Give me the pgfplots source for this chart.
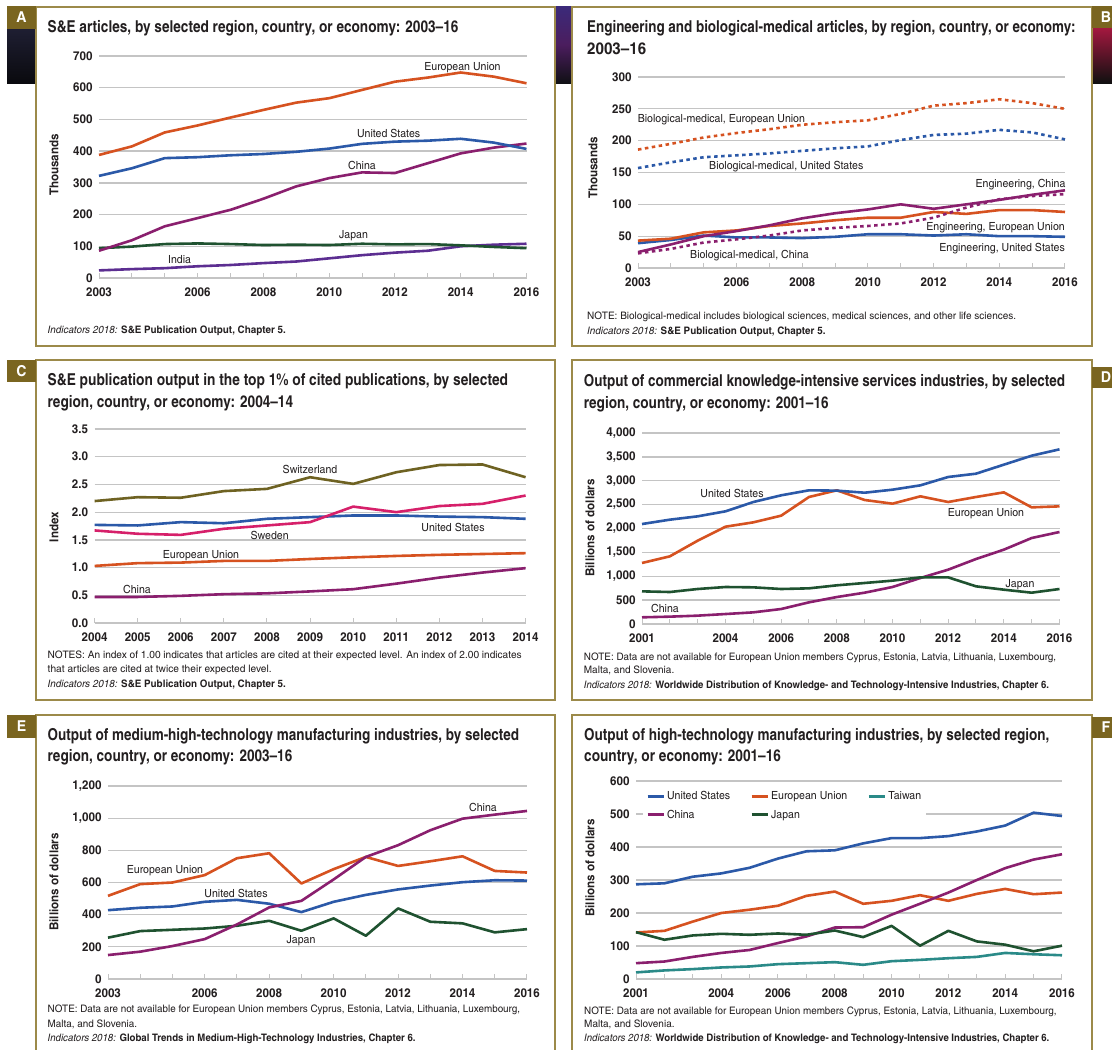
\documentclass[border=0pt]{standalone}
\usepackage{fontspec}
\setmainfont{texgyreheroscn}[Extension=.otf, UprightFont=*-regular, BoldFont=*-bold, ItalicFont=*-italic, BoldItalicFont=*-bolditalic, FakeStretch=1.15]
\usepackage{graphicx}
\usepackage{pgfplots}
\pgfplotsset{compat=1.18}

\definecolor{usblue}{RGB}{43,89,168}
\definecolor{euorange}{RGB}{214,82,32}
\definecolor{chinaplum}{RGB}{138,31,110}
\definecolor{japangreen}{RGB}{31,82,48}
\definecolor{indiaviolet}{RGB}{92,46,145}
\definecolor{swissolive}{RGB}{110,98,34}
\definecolor{swedenpink}{RGB}{214,32,106}
\definecolor{taiwanteal}{RGB}{42,138,136}
\definecolor{gridgray}{RGB}{196,196,196}
\definecolor{textdark}{RGB}{35,31,32}
\definecolor{framegold}{RGB}{156,138,74}
\definecolor{boxgold}{RGB}{122,101,32}

% squeeze or stretch a line of text to the width it has in the reference
\newlength\natw
\newcommand\fitw[2]{\settowidth\natw{#2}\pgfmathsetmacro\fitsc{#1/\natw}\scalebox{\fitsc}[1]{#2}}

\pgfplotsset{
  panel/.style={
    scale only axis, enlargelimits=false, clip=false,
    axis x line*=bottom, axis y line*=left,
    y axis line style={draw=none},
    ymajorgrids, grid style={draw=gridgray, line width=1.3pt},
    x axis line style={draw=gridgray, line width=1.3pt},
    tick align=inside, major tick length=5pt,
    xtick style={draw=gridgray, line width=1pt},
    ytick style={draw=none},
    tick label style={font=\bfseries\fontsize{12.3}{13}\selectfont, text=textdark},
    xticklabel style={yshift=-6pt},
    yticklabel style={xshift=-3pt},
    /pgf/number format/assume math mode=true,
    /pgf/number format/1000 sep={,},
    every axis plot/.append style={line width=2.6pt, line join=round, no markers},
  },
  bio/.style={dash pattern=on 3.5pt off 3.5pt},
}

\tikzset{
  ann/.style={font=\fontsize{11.2}{13}\selectfont, text=textdark, inner sep=0pt},
  ttl/.style={font=\bfseries\fontsize{16.4}{19}\selectfont, text=textdark, inner sep=0pt, anchor=base west},
  nte/.style={font=\fontsize{10.3}{12}\selectfont, text=textdark, inner sep=0pt, anchor=base west},
  ylab/.style={font=\bfseries\fontsize{12.3}{14}\selectfont, text=textdark, inner sep=0pt, rotate=90},
  letter/.style={font=\bfseries\fontsize{15}{16}\selectfont, text=white, inner sep=0pt},
}

\begin{document}
\begin{tikzpicture}[x=1pt,y=-1pt]
\path[use as bounding box] (0,0) rectangle (1112,1050);

% dark banner behind the top row
\shade[top color={rgb,255:red,30;green,30;blue,50}, bottom color={rgb,255:red,10;green,10;blue,14}] (7,29) rectangle (36,83);
\shade[top color={rgb,255:red,59;green,42;blue,122}, bottom color={rgb,255:red,16;green,16;blue,21}, middle color={rgb,255:red,75;green,29;blue,94}] (555,6) rectangle (572,83);
\shade[top color={rgb,255:red,163;green,24;blue,63}, bottom color={rgb,255:red,16;green,16;blue,16}] (1092,28) rectangle (1112,83);

% panel frames
\draw[framegold, line width=1.2pt, fill=white] (36,7) rectangle (555,346);
\draw[framegold, line width=1.2pt, fill=white] (572,7) rectangle (1092,346);
\draw[framegold, line width=1.2pt, fill=white] (36,360) rectangle (555,700);
\draw[framegold, line width=1.2pt, fill=white] (572,360) rectangle (1092,700);
\draw[framegold, line width=1.2pt, fill=white] (36,715) rectangle (555,1060);
\draw[framegold, line width=1.2pt, fill=white] (572,715) rectangle (1092,1060);

% panel letters
\fill[boxgold] (7,6) rectangle (36,29);      \node[letter] at (21.5,17.5) {A};
\fill[boxgold] (1092,6) rectangle (1112,28); \node[letter] at (1106,17) {B};
\fill[boxgold] (7,360) rectangle (36,382);   \node[letter] at (21.5,371) {C};
\fill[boxgold] (1092,367) rectangle (1112,388); \node[letter] at (1106,377.5) {D};
\fill[boxgold] (7,715) rectangle (36,738);   \node[letter] at (21.5,726.5) {E};
\fill[boxgold] (1092,717) rectangle (1112,738); \node[letter] at (1106,727.5) {F};

% ---------------- A ----------------
\node[ttl] at (47.5,32) {\fitw{410.7}{S\&E articles, by selected region, country, or economy: 2003--16}};
\node[ylab] at (54,165) {Thousands};
\begin{axis}[panel, at={(99pt,-278pt)}, anchor=south west,
  width=427.5pt, height=222pt,
  xmin=2003, xmax=2016, ymin=0, ymax=700, ytick={0,100,...,700},
  xtick={2003,...,2016},
  xticklabels={2003,{},{},2006,{},2008,{},2010,{},2012,{},2014,{},2016}]
\addplot[indiaviolet] coordinates {(2003,24) (2004,28) (2005,31) (2006,37) (2007,41) (2008,47) (2009,52) (2010,62) (2011,72) (2012,80) (2013,86) (2014,100) (2015,105) (2016,108)};
\addplot[japangreen] coordinates {(2003,94) (2004,99) (2005,107) (2006,109) (2007,107) (2008,104) (2009,105) (2010,104) (2011,108) (2012,106) (2013,107) (2014,103) (2015,98) (2016,94)};
\addplot[chinaplum] coordinates {(2003,86) (2004,119) (2005,163) (2006,189) (2007,215) (2008,250) (2009,289) (2010,315) (2011,333) (2012,331) (2013,362) (2014,393) (2015,411) (2016,424)};
\addplot[usblue] coordinates {(2003,322) (2004,346) (2005,378) (2006,381) (2007,387) (2008,391) (2009,398) (2010,408) (2011,423) (2012,430) (2013,433) (2014,439) (2015,427) (2016,407)};
\addplot[euorange] coordinates {(2003,388) (2004,415) (2005,459) (2006,481) (2007,506) (2008,530) (2009,553) (2010,567) (2011,593) (2012,619) (2013,632) (2014,648) (2015,635) (2016,614)};
\end{axis}
\node[ann, anchor=base] at (462.5,70) {European Union};
\node[ann, anchor=base] at (388.6,137) {United States};
\node[ann, anchor=base] at (362,169) {China};
\node[ann, anchor=base] at (353.6,238) {Japan};
\node[ann, anchor=base] at (179.6,263) {India};
\node[nte] at (47.5,333) {\fitw{238.2}{\textit{Indicators 2018:} \textbf{S\&E Publication Output, Chapter 5.}}};

% ---------------- B ----------------
\node[ttl] at (587,32.5) {\fitw{488.3}{Engineering and biological-medical articles, by region, country, or economy:}};
\node[ttl] at (587,54) {\fitw{59}{2003--16}};
\node[ylab] at (593,168) {Thousands};
\begin{axis}[panel, at={(638pt,-268pt)}, anchor=south west,
  width=427pt, height=191pt,
  xmin=2003, xmax=2016, ymin=0, ymax=300, ytick={0,50,...,300},
  xtick={2003,...,2016},
  xticklabels={2003,{},{},2006,{},2008,{},2010,{},2012,{},2014,{},2016}]
\addplot[usblue] coordinates {(2003,39) (2004,44) (2005,51) (2006,48) (2007,48) (2008,47) (2009,49) (2010,53) (2011,53) (2012,51) (2013,53) (2014,50) (2015,50) (2016,49)};
\addplot[euorange] coordinates {(2003,43) (2004,46) (2005,56) (2006,59) (2007,66) (2008,70) (2009,75) (2010,79) (2011,79) (2012,88) (2013,85) (2014,91) (2015,91) (2016,88)};
\addplot[chinaplum, bio] coordinates {(2003,23) (2004,30) (2005,40) (2006,45) (2007,51) (2008,59) (2009,63) (2010,66) (2011,70) (2012,79) (2013,95) (2014,108) (2015,113) (2016,116)};
\addplot[chinaplum] coordinates {(2003,25) (2004,37) (2005,50) (2006,58) (2007,67) (2008,78) (2009,86) (2010,92) (2011,100) (2012,93) (2013,100) (2014,107) (2015,115) (2016,122)};
\addplot[usblue, bio] coordinates {(2003,157) (2004,166) (2005,174) (2006,177) (2007,180) (2008,184) (2009,188) (2010,191) (2011,201) (2012,209) (2013,211) (2014,217) (2015,213) (2016,202)};
\addplot[euorange, bio] coordinates {(2003,186) (2004,195) (2005,205) (2006,212) (2007,218) (2008,225) (2009,229) (2010,232) (2011,242) (2012,255) (2013,259) (2014,265) (2015,259) (2016,250)};
\end{axis}
\node[ann, anchor=base west] at (637.6,122) {Biological-medical, European Union};
\node[ann, anchor=base west] at (709,169) {Biological-medical, United States};
\node[ann, anchor=base east] at (1065.6,187) {Engineering, China};
\node[ann, anchor=base east] at (1065,230) {Engineering, European Union};
\node[ann, anchor=base east] at (1065,251) {Engineering, United States};
\node[ann, anchor=base west] at (690,258) {Biological-medical, China};
\node[nte] at (587,319) {\fitw{429}{NOTE: Biological-medical includes biological sciences, medical sciences, and other life sciences.}};
\node[nte] at (587,334) {\fitw{238.3}{\textit{Indicators 2018:} \textbf{S\&E Publication Output, Chapter 5.}}};

% ---------------- C ----------------
\node[ttl] at (47.5,385.7) {\fitw{460.4}{S\&E publication output in the top 1\% of cited publications, by selected}};
\node[ttl] at (47.5,407.7) {\fitw{245.4}{region, country, or economy: 2004--14}};
\node[ylab] at (54,527) {Index};
\begin{axis}[panel, at={(94.6pt,-623pt)}, anchor=south west,
  width=431pt, height=194pt,
  xmin=2004, xmax=2014, ymin=0, ymax=3.5, ytick={0,0.5,...,3.5},
  yticklabel style={/pgf/number format/fixed, /pgf/number format/fixed zerofill, /pgf/number format/precision=1},
  xtick={2004,...,2014},
  xticklabels={2004,2005,2006,2007,2008,2009,2010,2011,2012,2013,2014}]
\addplot[chinaplum] coordinates {(2004,0.47) (2005,0.47) (2006,0.49) (2007,0.52) (2008,0.535) (2009,0.57) (2010,0.61) (2011,0.71) (2012,0.82) (2013,0.91) (2014,0.99)};
\addplot[euorange] coordinates {(2004,1.03) (2005,1.08) (2006,1.09) (2007,1.12) (2008,1.12) (2009,1.155) (2010,1.185) (2011,1.21) (2012,1.23) (2013,1.245) (2014,1.26)};
\addplot[usblue] coordinates {(2004,1.77) (2005,1.76) (2006,1.82) (2007,1.80) (2008,1.88) (2009,1.91) (2010,1.94) (2011,1.94) (2012,1.92) (2013,1.91) (2014,1.88)};
\addplot[swedenpink] coordinates {(2004,1.67) (2005,1.61) (2006,1.59) (2007,1.70) (2008,1.76) (2009,1.82) (2010,2.10) (2011,2.00) (2012,2.11) (2013,2.15) (2014,2.30)};
\addplot[swissolive] coordinates {(2004,2.20) (2005,2.27) (2006,2.26) (2007,2.38) (2008,2.42) (2009,2.63) (2010,2.51) (2011,2.72) (2012,2.85) (2013,2.86) (2014,2.63)};
\end{axis}
\node[ann, anchor=base] at (310,473) {Switzerland};
\node[ann, anchor=base] at (269.6,539) {Sweden};
\node[ann, anchor=base] at (453,531) {United States};
\node[ann, anchor=base] at (201,558) {European Union};
\node[ann, anchor=base] at (137,593) {China};
\node[nte] at (47.5,658) {\fitw{474}{NOTES: An index of 1.00 indicates that articles are cited at their expected level. An index of 2.00 indicates}};
\node[nte] at (47.5,672.7) {\fitw{224}{that articles are cited at twice their expected level.}};
\node[nte] at (47.5,687) {\fitw{238.2}{\textit{Indicators 2018:} \textbf{S\&E Publication Output, Chapter 5.}}};

% ---------------- D ----------------
\node[ttl] at (583.7,386.7) {\fitw{481.2}{Output of commercial knowledge-intensive services industries, by selected}};
\node[ttl] at (583.7,408.3) {\fitw{244.7}{region, country, or economy: 2001--16}};
\node[ylab] at (590,528) {Billions of dollars};
\begin{axis}[panel, at={(642pt,-624pt)}, anchor=south west,
  width=417.5pt, height=191pt,
  xmin=2001, xmax=2016, ymin=0, ymax=4000, ytick={0,500,...,4000},
  xtick={2001,...,2016},
  xticklabels={2001,{},{},2004,{},2006,{},2008,{},2010,{},2012,{},2014,{},2016}]
\addplot[chinaplum] coordinates {(2001,140) (2002,154) (2003,175) (2004,209) (2005,244) (2006,314) (2007,454) (2008,565) (2009,656) (2010,775) (2011,963) (2012,1138) (2013,1361) (2014,1557) (2015,1801) (2016,1927)};
\addplot[japangreen] coordinates {(2001,684) (2002,670) (2003,733) (2004,775) (2005,768) (2006,733) (2007,747) (2008,810) (2009,859) (2010,908) (2011,977) (2012,977) (2013,789) (2014,719) (2015,656) (2016,733)};
\addplot[euorange] coordinates {(2001,1278) (2002,1417) (2003,1745) (2004,2038) (2005,2129) (2006,2269) (2007,2660) (2008,2800) (2009,2597) (2010,2520) (2011,2674) (2012,2555) (2013,2660) (2014,2757) (2015,2443) (2016,2464)};
\addplot[usblue] coordinates {(2001,2094) (2002,2185) (2003,2255) (2004,2360) (2005,2555) (2006,2695) (2007,2800) (2008,2793) (2009,2750) (2010,2813) (2011,2904) (2012,3079) (2013,3148) (2014,3337) (2015,3525) (2016,3658)};
\end{axis}
\node[ann, anchor=base] at (732,497) {United States};
\node[ann, anchor=base] at (986,516) {European Union};
\node[ann, anchor=base] at (1020,587) {Japan};
\node[ann, anchor=base] at (665,612) {China};
\node[nte] at (583.7,660.7) {\fitw{472.3}{NOTE: Data are not available for European Union members Cyprus, Estonia, Latvia, Lithuania, Luxembourg,}};
\node[nte] at (583.7,673.5) {\fitw{90.4}{Malta, and Slovenia.}};
\node[nte] at (583.7,688) {\fitw{465.2}{\textit{Indicators 2018:} \textbf{Worldwide Distribution of Knowledge- and Technology-Intensive Industries, Chapter 6.}}};

% ---------------- E ----------------
\node[ttl] at (47.5,740.7) {\fitw{471.4}{Output of medium-high-technology manufacturing industries, by selected}};
\node[ttl] at (47.5,761.7) {\fitw{244.6}{region, country, or economy: 2003--16}};
\node[ylab] at (54,882) {Billions of dollars};
\begin{axis}[panel, at={(108pt,-979pt)}, anchor=south west,
  width=419pt, height=193pt,
  xmin=2003, xmax=2016, ymin=0, ymax=1200, ytick={0,200,...,1200},
  xtick={2003,...,2016},
  xticklabels={2003,{},{},2006,{},2008,{},2010,{},2012,{},2014,{},2016}]
\addplot[japangreen] coordinates {(2003,257) (2004,298) (2005,306) (2006,314) (2007,331) (2008,362) (2009,300) (2010,377) (2011,269) (2012,439) (2013,356) (2014,346) (2015,290) (2016,310)};
\addplot[usblue] coordinates {(2003,428) (2004,443) (2005,451) (2006,480) (2007,492) (2008,468) (2009,416) (2010,480) (2011,523) (2012,557) (2013,581) (2014,602) (2015,614) (2016,612)};
\addplot[euorange] coordinates {(2003,517) (2004,590) (2005,600) (2006,646) (2007,751) (2008,782) (2009,594) (2010,683) (2011,759) (2012,703) (2013,732) (2014,763) (2015,672) (2016,662)};
\addplot[chinaplum] coordinates {(2003,149) (2004,170) (2005,205) (2006,248) (2007,339) (2008,445) (2009,486) (2010,619) (2011,759) (2012,832) (2013,925) (2014,997) (2015,1022) (2016,1045)};
\end{axis}
\node[ann, anchor=base] at (483,811) {China};
\node[ann, anchor=base] at (165,873) {European Union};
\node[ann, anchor=base] at (236,897) {United States};
\node[ann, anchor=base] at (301,943) {Japan};
\node[nte] at (47.5,1012.7) {\fitw{472.5}{NOTE: Data are not available for European Union members Cyprus, Estonia, Latvia, Lithuania, Luxembourg,}};
\node[nte] at (47.5,1027) {\fitw{89.3}{Malta, and Slovenia.}};
\node[nte] at (47.5,1041.7) {\fitw{367.9}{\textit{Indicators 2018:} \textbf{Global Trends in Medium-High-Technology Industries, Chapter 6.}}};

% ---------------- F ----------------
\node[ttl] at (584,740.7) {\fitw{465.2}{Output of high-technology manufacturing industries, by selected region,}};
\node[ttl] at (584,761.7) {\fitw{196.8}{country, or economy: 2001--16}};
\node[ylab] at (590,868) {Billions of dollars};
\begin{axis}[panel, at={(636pt,-979pt)}, anchor=south west,
  width=426pt, height=198pt,
  xmin=2001, xmax=2016, ymin=0, ymax=600, ytick={0,100,...,600},
  xtick={2001,...,2016},
  xticklabels={2001,{},{},2004,{},2006,{},2008,{},2010,{},2012,{},2014,{},2016},
  legend columns=3, legend cell align=left,
  legend style={at={(0.016,0.97)}, anchor=north west, draw=none, fill=white,
    font=\fontsize{11.2}{13}\selectfont, text=textdark, inner xsep=3pt, inner ysep=2pt,
    row sep=5pt, /tikz/every even column/.append style={column sep=18pt}},
  legend image code/.code={\draw[#1, line width=3pt] (0pt,0pt) -- (16pt,0pt);}]
\addplot[usblue] coordinates {(2001,287) (2002,290) (2003,310) (2004,320) (2005,337) (2006,365) (2007,387) (2008,390) (2009,411) (2010,427) (2011,427) (2012,433) (2013,447) (2014,465) (2015,504) (2016,494)};
\addplot[euorange] coordinates {(2001,141) (2002,146) (2003,174) (2004,200) (2005,210) (2006,222) (2007,252) (2008,265) (2009,228) (2010,237) (2011,254) (2012,237) (2013,258) (2014,273) (2015,257) (2016,262)};
\addplot[taiwanteal] coordinates {(2001,20) (2002,26) (2003,30) (2004,35) (2005,38) (2006,45) (2007,48) (2008,51) (2009,43) (2010,54) (2011,58) (2012,63) (2013,67) (2014,79) (2015,75) (2016,72)};
\addplot[chinaplum] coordinates {(2001,48) (2002,53) (2003,67) (2004,79) (2005,88) (2006,109) (2007,129) (2008,156) (2009,157) (2010,195) (2011,228) (2012,262) (2013,300) (2014,336) (2015,362) (2016,378)};
\addplot[japangreen] coordinates {(2001,142) (2002,119) (2003,132) (2004,137) (2005,134) (2006,138) (2007,134) (2008,147) (2009,127) (2010,161) (2011,101) (2012,146) (2013,114) (2014,104) (2015,84) (2016,101)};
\legend{United States, European Union, Taiwan, China, Japan}
\end{axis}
\node[nte] at (584,1014) {\fitw{472.3}{NOTE: Data are not available for European Union members Cyprus, Estonia, Latvia, Lithuania, Luxembourg,}};
\node[nte] at (584,1027) {\fitw{90.4}{Malta, and Slovenia.}};
\node[nte] at (584,1041.7) {\fitw{465.2}{\textit{Indicators 2018:} \textbf{Worldwide Distribution of Knowledge- and Technology-Intensive Industries, Chapter 6.}}};
\end{tikzpicture}
\end{document}
